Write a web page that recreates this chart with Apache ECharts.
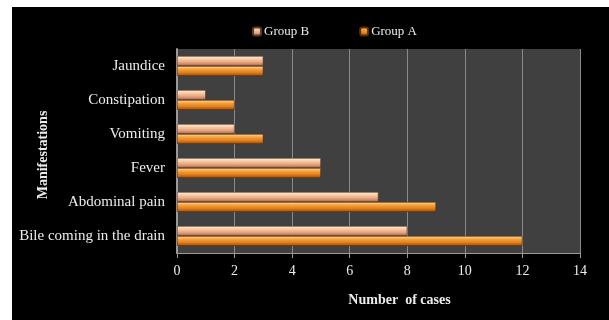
<!DOCTYPE html>
<html>
<head>
<meta charset="utf-8">
<script src="https://cdn.jsdelivr.net/npm/echarts@6/dist/echarts.min.js"></script>
<style>
  html, body { margin: 0; padding: 0; background: #fff; width: 609px; height: 320px; overflow: hidden; }
  #chart { position: absolute; left: 12px; top: 7px; width: 597px; height: 313px; }
</style>
</head>
<body>
<div id="chart"></div>
<script>
const categories = ['Bile coming in the drain', 'Abdominal pain', 'Fever', 'Vomiting', 'Constipation', 'Jaundice']
const groupA = [12, 9, 5, 3, 2, 3]
const groupB = [8, 7, 5, 2, 1, 3]

const font = '"Liberation Serif", "DejaVu Serif", serif'
const textColor = '#ececec'

const grad = (stops) => new echarts.graphic.LinearGradient(0, 0, 0, 1,
  stops.map((c, i) => ({ offset: i / (stops.length - 1), color: c })))

const chart = echarts.init(document.getElementById('chart'))
chart.setOption({
  backgroundColor: '#000',
  animation: false,
  textStyle: { fontFamily: font, color: textColor },
  legend: {
    top: 13,
    left: 235,
    itemWidth: 8,
    itemHeight: 8,
    itemGap: 50,
    data: ['Group B', 'Group A'],
    textStyle: { color: textColor, fontFamily: font, fontSize: 13, padding: [0, 0, 0, -2] }
  },
  grid: { left: 165, right: 29, top: 42, bottom: 67, containLabel: false, outerBoundsMode: 'none' },
  xAxis: {
    type: 'value',
    min: 0,
    max: 14,
    interval: 2,
    name: 'Number  of cases',
    nameLocation: 'middle',
    nameGap: 40,
    nameTextStyle: { color: textColor, fontFamily: font, fontSize: 14, fontWeight: 'bold', padding: [0, 0, 0, 42] },
    axisLine: { show: true, lineStyle: { color: '#9a9a9a', width: 1 } },
    axisTick: { show: true, length: 5, lineStyle: { color: '#9a9a9a' } },
    axisLabel: { color: textColor, fontFamily: font, fontSize: 14, margin: 11 },
    splitLine: { show: true, lineStyle: { color: '#8a8a8a', width: 1 } }
  },
  yAxis: {
    type: 'category',
    data: categories,
    name: 'Manifestations',
    nameLocation: 'middle',
    nameGap: 127,
    nameRotate: 90,
    nameMoveOverlap: false,
    nameTextStyle: { color: textColor, fontFamily: font, fontSize: 14, fontWeight: 'bold', padding: [0, 8, 0, 0] },
    axisLine: { show: true, lineStyle: { color: '#9a9a9a', width: 2 } },
    axisTick: { show: false },
    axisLabel: { color: textColor, fontFamily: font, fontSize: 15, margin: 12 },
    splitLine: { show: false },
    splitArea: { show: true, areaStyle: { color: ['#404040'] } }
  },
  series: [
    {
      name: 'Group B',
      type: 'bar',
      data: groupB,
      barWidth: 10,
      barGap: '0%',
      itemStyle: {
        color: grad(['#fff0dc', '#f6c9a2', '#e6a07a', '#a0644a']),
        borderColor: '#5a3a28',
        borderWidth: 0.6
      }
    },
    {
      name: 'Group A',
      type: 'bar',
      data: groupA,
      barWidth: 10,
      barGap: '0%',
      itemStyle: {
        color: grad(['#fddaa0', '#f5a03a', '#e07d1a', '#98480a']),
        borderColor: '#5a2e08',
        borderWidth: 0.6
      }
    }
  ]
})
</script>
</body>
</html>
